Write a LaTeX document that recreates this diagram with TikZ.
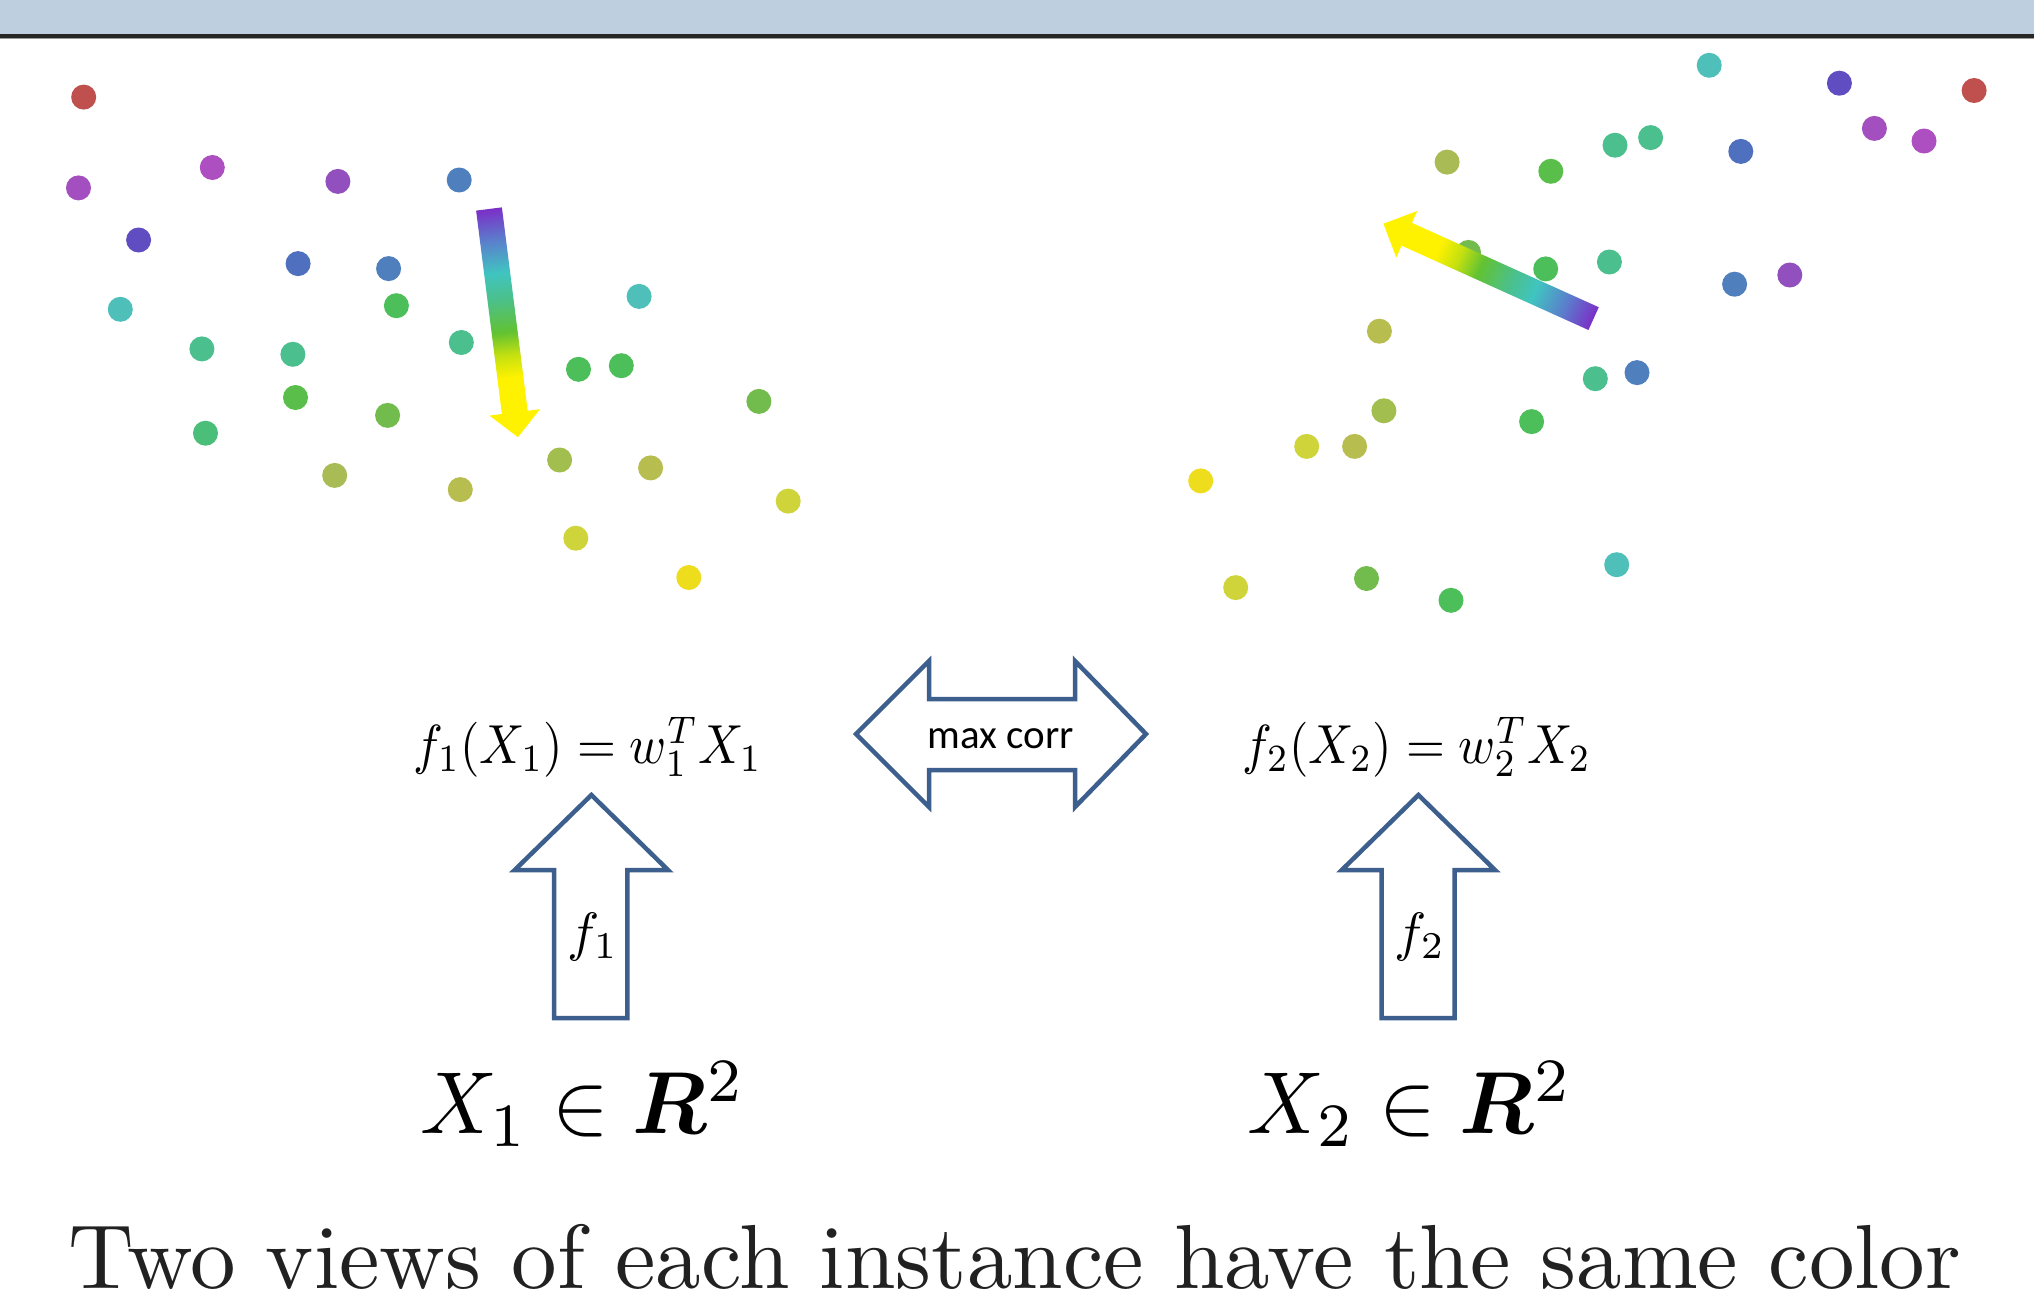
\documentclass[tikz,border=0pt]{standalone}
\usepackage{amsmath,bm}
\usepackage{graphicx}
\usepackage{fontspec}
\newfontfamily\calibri{Carlito}
\newfontfamily\lmten{lmroman10-regular.otf}
\definecolor{barblue}{RGB}{190,207,224}
\definecolor{edgeblue}{RGB}{60,95,141}
\definecolor{cred}{HTML}{C0504D}
\definecolor{cpurA}{HTML}{A34FBF}
\definecolor{cpurB}{HTML}{AD4FC0}
\definecolor{cpurC}{HTML}{9150BD}
\definecolor{cindigo}{HTML}{614DC2}
\definecolor{cblueA}{HTML}{4F70BE}
\definecolor{cblueB}{HTML}{4F80BD}
\definecolor{ccyan}{HTML}{4FBFBA}
\definecolor{cteal}{HTML}{4BBF8E}
\definecolor{cgreen}{HTML}{4CBF5A}
\definecolor{cgreenB}{HTML}{5ABF4A}
\definecolor{cgreenC}{HTML}{72BC4D}
\definecolor{coliveA}{HTML}{A2BE4E}
\definecolor{coliveB}{HTML}{A8BB55}
\definecolor{coliveC}{HTML}{B7BD4E}
\definecolor{cyelA}{HTML}{CFD43A}
\definecolor{cyelB}{HTML}{EEDD1C}
\definecolor{apurple}{HTML}{7B2FC8}
\definecolor{ablue}{HTML}{5A80CC}
\definecolor{acyan}{HTML}{40C4C0}
\definecolor{ateal}{HTML}{4CC088}
\definecolor{agreen}{HTML}{62C232}
\definecolor{ayg}{HTML}{C4E010}
\definecolor{ayellow}{HTML}{FFF200}
\pgfdeclarehorizontalshading{rainbowgrad}{100bp}{color(0bp)=(apurple); color(25bp)=(apurple); color(32bp)=(ablue); color(39bp)=(acyan); color(45bp)=(ateal); color(52bp)=(agreen); color(57bp)=(ayg); color(62bp)=(ayellow); color(100bp)=(ayellow)}
\begin{document}
\begin{tikzpicture}[x=1pt,y=1pt,
  pdot/.style={circle, inner sep=0pt, minimum size=25pt, fill=#1, draw=none},
  blockarrow/.style={draw=edgeblue, line width=4.5pt, fill=white},
  mathlbl/.style={inner sep=0pt}]
\useasboundingbox (0,0) rectangle (2034,-1309);
\fill[white] (0,0) rectangle (2034,-1309);
% top bar
\fill[barblue] (0,0) rectangle (2034,-34);
\fill[black!85] (0,-34) rectangle (2034,-37.7);
\fill[black!40] (0,-37.7) rectangle (2034,-39);
% left view points
\node[pdot=cred] (l1) at (83.7,-97.1) {};
\node[pdot=cpurA] (l2) at (78.5,-187.9) {};
\node[pdot=cpurB] (l3) at (212.3,-167.5) {};
\node[pdot=cpurC] (l4) at (337.9,-181.4) {};
\node[pdot=cblueB] (l5) at (459.2,-180) {};
\node[pdot=cindigo] (l6) at (138.6,-240) {};
\node[pdot=cblueA] (l7) at (298.1,-263.6) {};
\node[pdot=cblueB] (l8) at (388.6,-268.6) {};
\node[pdot=ccyan] (l9) at (120.3,-309.3) {};
\node[pdot=cgreen] (l10) at (396.4,-305.7) {};
\node[pdot=cteal] (l11) at (201.9,-348.9) {};
\node[pdot=cteal] (l12) at (292.9,-354.3) {};
\node[pdot=cteal] (l13) at (461.3,-342.5) {};
\node[pdot=ccyan] (l14) at (639.1,-296.4) {};
\node[pdot=cgreen] (l15) at (578.5,-369.3) {};
\node[pdot=cgreen] (l16) at (621.3,-365.7) {};
\node[pdot=cgreenB] (l17) at (295.5,-397.5) {};
\node[pdot=cgreenC] (l18) at (387.6,-415.4) {};
\node[pdot=cteal!60!cgreen] (l19) at (205.5,-433.2) {};
\node[pdot=cgreenC] (l20) at (758.9,-401.4) {};
\node[pdot=coliveB] (l21) at (334.7,-475.4) {};
\node[pdot=coliveC] (l22) at (460.3,-489.6) {};
\node[pdot=coliveA] (l23) at (559.6,-460) {};
\node[pdot=coliveC] (l24) at (650.6,-467.9) {};
\node[pdot=cyelA] (l25) at (788.2,-501.1) {};
\node[pdot=cyelA] (l26) at (575.8,-538.2) {};
\node[pdot=cyelB] (l27) at (688.8,-577.5) {};
% right view points
\node[pdot=ccyan] (r1) at (1709.2,-65.3) {};
\node[pdot=cindigo] (r2) at (1839.4,-83.2) {};
\node[pdot=cred] (r3) at (1974.1,-90.5) {};
\node[pdot=cpurA] (r4) at (1874.4,-128.4) {};
\node[pdot=cpurB] (r5) at (1924,-141) {};
\node[pdot=cblueA] (r6) at (1740.8,-151.4) {};
\node[pdot=cteal] (r7) at (1615,-145.2) {};
\node[pdot=cteal] (r8) at (1650.6,-137.6) {};
\node[pdot=cgreenB] (r9) at (1550.8,-171.3) {};
\node[pdot=coliveB] (r10) at (1447.1,-162.1) {};
\node[pdot=cgreenC] (r11) at (1468.5,-252.4) {};
\node[pdot=cgreen] (r12) at (1545.7,-268.9) {};
\node[pdot=cteal] (r13) at (1609.4,-262) {};
\node[pdot=cblueB] (r14) at (1734.6,-284.2) {};
\node[pdot=cpurC] (r15) at (1789.8,-275) {};
\node[pdot=coliveC] (r16) at (1379.4,-331.2) {};
\node[pdot=cteal] (r17) at (1595.3,-378.7) {};
\node[pdot=cblueB] (r18) at (1637,-372.6) {};
\node[pdot=coliveA] (r19) at (1383.9,-410.8) {};
\node[pdot=cgreen] (r20) at (1531.6,-421.6) {};
\node[pdot=cyelA] (r21) at (1306.7,-446.4) {};
\node[pdot=coliveC] (r22) at (1354.6,-446.4) {};
\node[pdot=cyelB] (r23) at (1200.7,-480.9) {};
\node[pdot=cyelA] (r24) at (1235.7,-587.6) {};
\node[pdot=cgreenC] (r25) at (1366.5,-578.5) {};
\node[pdot=cgreen] (r26) at (1451,-600.3) {};
\node[pdot=ccyan] (r27) at (1616.7,-564.7) {};
% gradient arrows (projection directions)
\begin{scope}[transform canvas={shift={(489,-209)}, rotate=-82.77}]
\shade[shading=rainbowgrad] (0,-13) -- (205,-13) -- (205,-25.5) -- (230,0) -- (205,25.5) -- (205,13) -- (0,13) -- cycle;
\end{scope}
\begin{scope}[transform canvas={shift={(1593.6,-318.6)}, rotate=155.7}]
\shade[shading=rainbowgrad] (0,-12.5) -- (205,-12.5) -- (205,-25.5) -- (230.6,0) -- (205,25.5) -- (205,12.5) -- (0,12.5) -- cycle;
\end{scope}
% formulas
\node[mathlbl, anchor=base] (f1eq) at (588,-763) {\scalebox{5.0}[5.5]{$f_1(X_1) = w_1^T X_1$}};
\node[mathlbl, anchor=base] (f2eq) at (1417,-763) {\scalebox{5.0}[5.5]{$f_2(X_2) = w_2^T X_2$}};
% max corr double arrow
\draw[blockarrow] (856,-734) -- (929,-661) -- (929,-699) -- (1075,-699) -- (1075,-661) -- (1146,-734)
  -- (1075,-807) -- (1075,-770) -- (929,-770) -- (929,-807) -- cycle;
\node[inner sep=0pt, anchor=base, font=\calibri\fontsize{41}{46}\selectfont] (corr) at (1001,-748) {max corr};
% up block arrows
\draw[blockarrow] (591.4,-795) -- (668,-870) -- (627.3,-870) -- (627.3,-1018) -- (554,-1018) -- (554,-870) -- (514.7,-870) -- cycle;
\draw[blockarrow] (1418.4,-795) -- (1495,-870) -- (1454.6,-870) -- (1454.6,-1018) -- (1381.6,-1018) -- (1381.6,-870) -- (1341.8,-870) -- cycle;
\node[mathlbl, anchor=base] (f1) at (593,-950) {\scalebox{5.4}{$f_1$}};
\node[mathlbl, anchor=base] (f2) at (1420,-950) {\scalebox{5.4}{$f_2$}};
% input spaces
\node[mathlbl, anchor=base] (x1) at (583,-1133) {\scalebox{8.5}[8.8]{$X_1 \in \boldsymbol{R}^2$}};
\node[mathlbl, anchor=base] (x2) at (1410,-1133) {\scalebox{8.5}[8.8]{$X_2 \in \boldsymbol{R}^2$}};
% caption
\node[inner sep=0pt, anchor=base, text=black!87, font=\lmten\fontsize{91}{100}\selectfont] (cap) at (1015,-1288) {Two views of each instance have the same color};
\end{tikzpicture}
\end{document}
